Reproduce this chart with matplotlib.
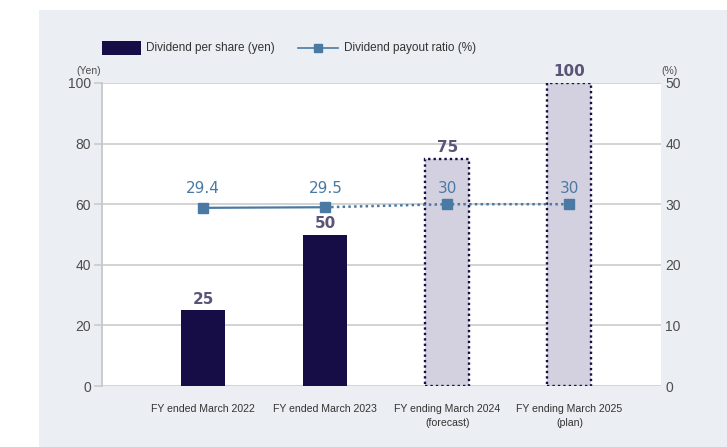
import matplotlib.pyplot as plt
from matplotlib.patches import Rectangle
from matplotlib.lines import Line2D

years = ["FY ended March 2022", "FY ended March 2023",
         "FY ending March 2024\n(forecast)", "FY ending March 2025\n(plan)"]
dividend = [25, 50, 75, 100]
payout = [29.4, 29.5, 30, 30]
is_actual = [True, True, False, False]

navy = "#160c46"
pale = "#d3d1df"
blue = "#4a7aa3"
label_col = "#5a5478"
grid_col = "#c8c8c8"
tick_col = "#4d4d4d"

plt.rcParams["font.family"] = ["Liberation Sans", "DejaVu Sans"]

fig = plt.figure(figsize=(7.27, 4.47), dpi=100)
fig.patches.append(Rectangle((39 / 727, 0), 1, 1 - 10 / 447, transform=fig.transFigure,
                             facecolor="#ebeef3", edgecolor="none", zorder=-10))

ax = fig.add_axes([102 / 727, 1 - 386 / 447, 559 / 727, 303 / 447])
ax.set_facecolor("white")
ax2 = ax.twinx()

x = list(range(len(years)))
for i in x:
    if is_actual[i]:
        ax.bar(i, dividend[i], width=0.36, color=navy, zorder=3)
    else:
        ax.bar(i, dividend[i], width=0.36, facecolor=pale, edgecolor=navy,
               linestyle=(0, (1, 1.3)), linewidth=1.7, zorder=3)
    ax.text(i, dividend[i] + 3.7, f"{dividend[i]}", ha="center", va="center",
            fontsize=11, fontweight="bold", color=label_col, zorder=5,
            family="DejaVu Sans")

ax.set_xlim(-0.83, 3.75)
ax.set_ylim(0, 100)
ax.set_yticks(range(0, 101, 20))
ax.grid(axis="y", color=grid_col, linewidth=1.1, zorder=0)
ax.set_axisbelow(True)
for s in ["top", "right", "bottom"]:
    ax.spines[s].set_visible(False)
ax.spines["left"].set_color(grid_col)
ax.spines["left"].set_linewidth(1.3)
ax.tick_params(axis="y", length=6, width=1.1, color=grid_col, labelcolor=tick_col,
               labelsize=10, pad=2)
ax.set_xticks(x)
ax.set_xticklabels(years, fontsize=7.6, color="#333333", linespacing=1.45)
ax.tick_params(axis="x", length=0, pad=13)

# payout ratio: solid for actuals, dotted for forecast/plan
ax2.plot(x[:2], payout[:2], color=blue, linewidth=1.6, zorder=6)
ax2.plot(x[1:], payout[1:], color=blue, linewidth=1.8, linestyle=(0, (1, 1.3)), zorder=6)
ax2.plot(x, payout, linestyle="none", marker="s", markersize=7, color=blue, zorder=7)
for i in x:
    ax2.text(i, 32.6, f"{payout[i]:g}", ha="center", va="center",
             fontsize=11, color=blue, zorder=8, family="DejaVu Sans")
ax2.set_ylim(0, 50)
ax2.set_yticks(range(0, 51, 10))
for s in ax2.spines.values():
    s.set_visible(False)
ax2.tick_params(axis="y", length=0, labelcolor=tick_col, labelsize=10, pad=3)

fig.text(101 / 727, 1 - 71 / 447, "(Yen)", ha="right", va="center", fontsize=7.5, color=tick_col)
fig.text(661 / 727, 1 - 71 / 447, "(%)", ha="left", va="center", fontsize=7.5, color=tick_col)

# legend drawn in figure pixels
fig.patches.append(Rectangle((102 / 727, 1 - 55 / 447), 39 / 727, 14 / 447,
                             transform=fig.transFigure, facecolor=navy, edgecolor="none"))
fig.text(146 / 727, 1 - 48 / 447, "Dividend per share (yen)", ha="left", va="center",
         fontsize=8.5, color="#333333")
fig.lines.append(Line2D([298 / 727, 338 / 727], [1 - 48 / 447, 1 - 48 / 447],
                        transform=fig.transFigure, color=blue, linewidth=1.2))
fig.lines.append(Line2D([318 / 727], [1 - 48 / 447], transform=fig.transFigure,
                        color=blue, marker="s", markersize=6, linestyle="none"))
fig.text(344 / 727, 1 - 48 / 447, "Dividend payout ratio (%)", ha="left", va="center",
         fontsize=8.5, color="#333333")

fig.savefig("out.png", dpi=100)
